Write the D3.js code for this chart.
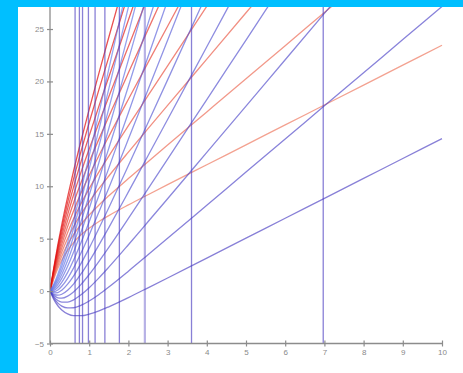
<!DOCTYPE html>
<html>
<head>
<meta charset="utf-8">
<script src="https://cdn.jsdelivr.net/npm/d3@7"></script>
<style>
  html, body { margin: 0; padding: 0; background: #00BFFF; }
  svg { display: block; }
</style>
</head>
<body>
<svg id="chart" width="463" height="373"></svg>
<script>
// Shared sample positions along the horizontal axis
const xGrid = [0, 0.1, 0.2, 0.3, 0.45, 0.6, 0.8, 1, 1.25, 1.5, 2, 2.5, 3, 4, 5, 6, 7, 8, 9, 10];

// Lower family (blue): each dips below zero, then rises steadily
const blueCurves = [
  [0, -0.81, -1.40, -1.81, -2.18, -2.35, -2.35, -2.20, -1.89, -1.50, -0.62, 0.31, 1.25, 3.15, 5.05, 6.95, 8.85, 10.75, 12.65, 14.55],
  [0, -0.68, -1.15, -1.43, -1.61, -1.59, -1.34, -0.94, -0.32, 0.39, 1.90, 3.46, 5.03, 8.19, 11.35, 14.51, 17.67, 20.83, 23.99, 27.15],
  [0, -0.56, -0.90, -1.05, -1.05, -0.84, -0.33, 0.32, 1.26, 2.28, 4.42, 6.61, 8.81, 13.23, 17.65, 22.07, 26.49, 30.91],
  [0, -0.43, -0.64, -0.68, -0.48, -0.08, 0.67, 1.58, 2.84, 4.17, 6.94, 9.76, 12.59, 18.27, 23.95, 29.63],
  [0, -0.31, -0.39, -0.30, 0.09, 0.67, 1.68, 2.84, 4.41, 6.06, 9.46, 12.91, 16.37, 23.31, 30.25],
  [0, -0.18, -0.14, 0.08, 0.66, 1.43, 2.69, 4.10, 5.99, 7.95, 11.98, 16.06, 20.15, 28.35],
  [0, -0.05, 0.11, 0.46, 1.22, 2.19, 3.70, 5.36, 7.56, 9.84, 14.50, 19.21, 23.93, 33.39],
  [0, 0.07, 0.36, 0.84, 1.79, 2.94, 4.71, 6.62, 9.14, 11.73, 17.02, 22.36, 27.71],
  [0, 0.20, 0.62, 1.21, 2.36, 3.70, 5.71, 7.88, 10.71, 13.62, 19.54, 25.51, 31.49],
  [0, 0.32, 0.87, 1.59, 2.92, 4.45, 6.72, 9.14, 12.29, 15.51, 22.06, 28.66],
  [0, 0.45, 1.12, 1.97, 3.49, 5.21, 7.73, 10.40, 13.86, 17.40, 24.58, 31.81],
  [0, 0.58, 1.37, 2.35, 4.06, 5.97, 8.74, 11.66, 15.44, 19.29, 27.10, 34.96],
  [0, 0.70, 1.62, 2.73, 4.62, 6.72, 9.75, 12.92, 17.01, 21.18, 29.62]
];

// Upper family (red): steep start from the origin, bending to a straight rise
const redCurves = [
  [0, 1.19, 2.16, 2.95, 3.89, 4.63, 5.39, 6.00, 6.64, 7.20, 8.22, 9.19, 10.15, 12.05, 13.95, 15.85, 17.75, 19.65, 21.55, 23.45],
  [0, 1.32, 2.41, 3.33, 4.46, 5.39, 6.40, 7.26, 8.22, 9.09, 10.74, 12.34, 13.93, 17.09, 20.25, 23.41, 26.57, 29.73],
  [0, 1.44, 2.66, 3.71, 5.02, 6.14, 7.41, 8.52, 9.79, 10.98, 13.26, 15.49, 17.71, 22.13, 26.55, 30.97],
  [0, 1.57, 2.92, 4.08, 5.59, 6.90, 8.41, 9.78, 11.37, 12.87, 15.78, 18.64, 21.49, 27.17, 32.85],
  [0, 1.69, 3.17, 4.46, 6.16, 7.65, 9.42, 11.04, 12.94, 14.76, 18.30, 21.79, 25.27, 32.21],
  [0, 1.82, 3.42, 4.84, 6.73, 8.41, 10.43, 12.30, 14.52, 16.65, 20.82, 24.94, 29.05],
  [0, 1.95, 3.67, 5.22, 7.29, 9.17, 11.44, 13.56, 16.09, 18.54, 23.34, 28.09],
  [0, 2.07, 3.92, 5.60, 7.86, 9.92, 12.45, 14.82, 17.67, 20.43, 25.86, 31.24],
  [0, 2.20, 4.18, 5.97, 8.43, 10.68, 13.45, 16.08, 19.24, 22.32, 28.38],
  [0, 2.32, 4.43, 6.35, 8.99, 11.43, 14.46, 17.34, 20.82, 24.21, 30.90]
];

// Positions of the vertical marker lines
const verticalLines = [0.64, 0.75, 0.83, 0.98, 1.15, 1.40, 1.77, 2.42, 3.61, 6.97];

const xTicks = [0, 1, 2, 3, 4, 5, 6, 7, 8, 9, 10];
const yTicks = [-5, 0, 5, 10, 15, 20, 25];

const svg = d3.select("#chart");
const W = 463, H = 373;

// White figure panel on the blue backdrop
svg.append("rect").attr("x", 0).attr("y", 0).attr("width", W).attr("height", H).attr("fill", "#00BFFF");
svg.append("rect").attr("x", 18).attr("y", 7).attr("width", W - 18).attr("height", H - 7).attr("fill", "#ffffff");

const x = d3.scaleLinear().domain([0, 10]).range([50, 442]);
const y = d3.scaleLinear().domain([-5, 27.1]).range([343.5, 7]);

svg.append("clipPath").attr("id", "plotClip")
  .append("rect").attr("x", 50).attr("y", 7).attr("width", W - 50).attr("height", 343.5 - 7);

const plot = svg.append("g").attr("clip-path", "url(#plotClip)");

const line = d3.line()
  .x(d => x(d[0]))
  .y(d => y(d[1]))
  .curve(d3.curveMonotoneX);

const toPoints = vals => vals.map((v, i) => [xGrid[i], v]);

// Red family: pale for the shallow curves, saturated for the steep ones
plot.append("g").selectAll("path")
  .data(redCurves)
  .join("path")
  .attr("d", d => line(toPoints(d)))
  .attr("fill", "none")
  .attr("stroke", (d, i) => d3.interpolateRgb("#ee7a62", "#e00808")(i / (redCurves.length - 1)))
  .attr("stroke-width", 1.3)
  .attr("stroke-opacity", 0.7);

// Blue family
plot.append("g").selectAll("path")
  .data(blueCurves)
  .join("path")
  .attr("d", d => line(toPoints(d)))
  .attr("fill", "none")
  .attr("stroke", (d, i) => d3.interpolateRgb("#3f32bf", "#5a72ea")(i / (blueCurves.length - 1)))
  .attr("stroke-width", 1.3)
  .attr("stroke-opacity", 0.62);

// Vertical markers
plot.append("g").selectAll("line")
  .data(verticalLines)
  .join("line")
  .attr("x1", d => x(d)).attr("x2", d => x(d))
  .attr("y1", y(-5)).attr("y2", 7)
  .attr("stroke", "#4a3cc0")
  .attr("stroke-width", d => d === 2.42 ? 2.2 : 1.3)
  .attr("stroke-opacity", d => d === 2.42 ? 0.4 : 0.65);

// Axes
const axisColor = "#8c8c8c";
const xAxis = svg.append("g")
  .attr("transform", `translate(0,${y(-5)})`)
  .call(d3.axisBottom(x).tickValues(xTicks).tickFormat(d3.format("d")).tickSizeOuter(0).tickSize(3).tickPadding(3));
const yAxis = svg.append("g")
  .attr("transform", `translate(${x(0)},0)`)
  .call(d3.axisLeft(y).tickValues(yTicks).tickFormat(d3.format("d")).tickSizeOuter(0).tickSize(3).tickPadding(3));

xAxis.select(".domain").attr("d", `M${x(0)},0H${x(10)}`);
yAxis.select(".domain").attr("d", `M0,${y(-5)}V7`);

[xAxis, yAxis].forEach(g => {
  g.select(".domain").attr("stroke", axisColor).attr("stroke-width", 1.3);
  g.selectAll(".tick line").attr("stroke", axisColor).attr("stroke-width", 1.2);
  g.selectAll(".tick text")
    .attr("fill", "#8a8a8a")
    .attr("font-family", "Liberation Sans, Arial, sans-serif")
    .attr("font-size", 8);
});
xAxis.selectAll(".tick line").attr("y1", -3).attr("y2", 3);
yAxis.selectAll(".tick line").attr("x1", 3).attr("x2", -3);
</script>
</body>
</html>
